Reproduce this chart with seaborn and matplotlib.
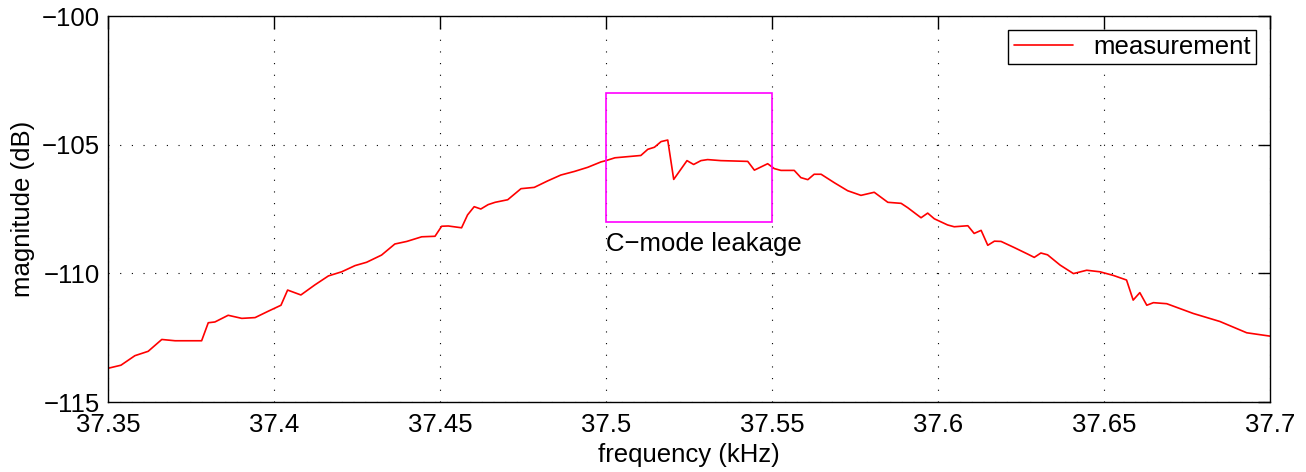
import numpy as np
import pandas as pd
import matplotlib
matplotlib.use("Agg")
import matplotlib.pyplot as plt
import seaborn as sns
from matplotlib.patches import Rectangle

freq_khz = [
    37.3500, 37.3539, 37.3581, 37.3621, 37.3662, 37.3702, 37.3782, 37.3802,
    37.3822, 37.3862, 37.3903, 37.3943, 37.3983, 37.4021, 37.4041, 37.4081,
    37.4123, 37.4164, 37.4204, 37.4244, 37.4279, 37.4324, 37.4364, 37.4400,
    37.4445, 37.4485, 37.4505, 37.4525, 37.4565, 37.4583, 37.4603, 37.4623,
    37.4645, 37.4666, 37.4704, 37.4744, 37.4784, 37.4824, 37.4864, 37.4905,
    37.4945, 37.4985, 37.5000, 37.5027, 37.5105, 37.5126, 37.5146, 37.5166,
    37.5186, 37.5204, 37.5244, 37.5264, 37.5286, 37.5306, 37.5346, 37.5427,
    37.5447, 37.5487, 37.5507, 37.5527, 37.5567, 37.5587, 37.5608, 37.5627,
    37.5648, 37.5688, 37.5728, 37.5768, 37.5808, 37.5849, 37.5889, 37.5909,
    37.5949, 37.5969, 37.5989, 37.6029, 37.6049, 37.6090, 37.6109, 37.6130,
    37.6150, 37.6170, 37.6190, 37.6230, 37.6270, 37.6290, 37.6310, 37.6330,
    37.6368, 37.6408, 37.6448, 37.6488, 37.6528, 37.6568, 37.6588, 37.6608,
    37.6629, 37.6649, 37.6689, 37.6769, 37.6849, 37.6930, 37.7000,
]
magnitude_db = [
    -113.69, -113.57, -113.20, -113.03, -112.57, -112.62, -112.62, -111.92,
    -111.89, -111.63, -111.75, -111.72, -111.47, -111.24, -110.65, -110.84,
    -110.45, -110.10, -109.94, -109.70, -109.57, -109.29, -108.86, -108.76,
    -108.58, -108.56, -108.17, -108.16, -108.23, -107.73, -107.41, -107.50,
    -107.33, -107.24, -107.14, -106.71, -106.66, -106.41, -106.18, -106.04,
    -105.88, -105.67, -105.62, -105.51, -105.42, -105.18, -105.10, -104.88,
    -104.82, -106.35, -105.62, -105.77, -105.62, -105.58, -105.62, -105.65,
    -105.99, -105.74, -105.93, -106.00, -106.00, -106.28, -106.36, -106.15,
    -106.15, -106.48, -106.79, -106.97, -106.85, -107.24, -107.28, -107.45,
    -107.84, -107.66, -107.88, -108.12, -108.19, -108.15, -108.45, -108.33,
    -108.91, -108.75, -108.76, -109.00, -109.25, -109.38, -109.21, -109.28,
    -109.68, -110.01, -109.88, -109.94, -110.08, -110.26, -111.04, -110.75,
    -111.24, -111.14, -111.18, -111.56, -111.87, -112.31, -112.44,
]

x_ticks = [37.35, 37.4, 37.45, 37.5, 37.55, 37.6, 37.65, 37.7]
y_ticks = [-115, -110, -105, -100]

# region highlighted in the figure
box_f = (37.5, 37.55)
box_db = (-108, -103)

sns.set_style("white")
plt.rcParams["font.family"] = ["Liberation Sans", "DejaVu Sans"]
plt.rcParams["text.color"] = "black"
plt.rcParams["axes.labelcolor"] = "black"
FS = 18.5

df = pd.DataFrame({"freq": freq_khz, "mag": magnitude_db})

fig = plt.figure(figsize=(13.06, 4.72), dpi=100)
ax = fig.add_axes([0.0827, 0.1483, 0.9724 - 0.0827, 0.9661 - 0.1483])

sns.lineplot(data=df, x="freq", y="mag", ax=ax, color="red", lw=1.2,
             estimator=None, sort=False, label="measurement")

ax.add_patch(Rectangle((box_f[0], box_db[0]), box_f[1] - box_f[0],
                       box_db[1] - box_db[0], fill=False,
                       edgecolor="magenta", lw=1.2, zorder=3))
ax.text(box_f[0], -108.4, "C\u2212mode leakage", ha="left", va="top",
        fontsize=FS, color="black")

ax.set_xlim(37.35, 37.7)
ax.set_ylim(-115, -100)
ax.set_xticks(x_ticks)
ax.set_xticklabels([f"{v:g}" for v in x_ticks])
ax.set_yticks(y_ticks)
ax.set_yticklabels([f"\u2212{abs(v)}" for v in y_ticks])
ax.tick_params(direction="in", length=9, width=1, top=True, right=True,
               labelsize=FS, colors="black")
ax.tick_params(axis="x", pad=8)
ax.tick_params(axis="y", pad=6)
ax.grid(True, color="black", lw=0.8, linestyle=(0, (1, 9.5)))
for s in ax.spines.values():
    s.set_visible(True)
    s.set_color("black")
    s.set_linewidth(1.0)

ax.set_xlabel("frequency (kHz)", fontsize=FS, labelpad=4, color="black")
ax.set_ylabel("magnitude (dB)", fontsize=FS, labelpad=5, color="black")

leg = ax.legend(loc="upper right", fontsize=FS, fancybox=False,
                framealpha=1, edgecolor="black", handlelength=2.3,
                borderaxespad=0.55, borderpad=0.2)
leg.get_frame().set_linewidth(1.0)
for t in leg.get_texts():
    t.set_color("black")

fig.savefig("out.png", dpi=100)
